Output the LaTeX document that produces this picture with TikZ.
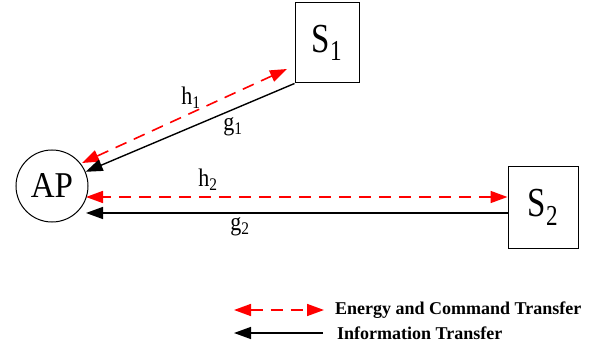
\documentclass[tikz,border=0pt]{standalone}
\usepackage{fontspec}
\setmainfont{Liberation Serif}
\usetikzlibrary{arrows.meta}
\tikzset{
  big/.style={font=\fontsize{33}{36}\selectfont},
  lbl/.style={font=\fontsize{22}{24}\selectfont, inner sep=0pt},
  leg/.style={font=\bfseries\fontsize{18}{20}\selectfont, anchor=west, inner sep=0pt},
  boxnode/.style={draw, line width=1pt, inner sep=0pt, big},
  energy/.style={draw=red, line width=1.6pt, dash pattern=on 12pt off 8pt,
     {Triangle[length=17pt,width=12pt]}-{Triangle[length=17pt,width=12pt]}},
  info/.style={draw=black, line width=1.4pt, -{Triangle[length=17pt,width=12pt]}},
}
\begin{document}
\begin{tikzpicture}[x=1pt,y=-1pt]
\useasboundingbox (0,0) rectangle (591,347);
\node[draw, circle, line width=1pt, minimum size=72pt, inner sep=0pt, big] (AP) at (52,186) {\scalebox{1}[1.1]{AP}};
\node[boxnode, minimum width=64pt, minimum height=80pt] (S1) at (327,43) {\scalebox{1}[1.25]{S\textsubscript{1}}};
\node[boxnode, minimum width=70pt, minimum height=81pt] (S2) at (543,207.5) {\scalebox{1}[1.25]{S\textsubscript{2}}};
% endpoints
\coordinate (h1a) at (82,163);
\coordinate (h1b) at (287,69);
\coordinate (h2a) at (86,197);
\coordinate (g2a) at (86,213);
\draw[energy] (h1b) -- (h1a);
\draw[info] (S1.south west) -- (AP);
\draw[energy] (S2.west |- h2a) -- (h2a);
\draw[info] (S2.west |- g2a) -- (g2a);
% labels
\node[lbl] (lh1) at (191,98) {\scalebox{1}[1.15]{h\textsubscript{1}}};
\node[lbl] (lg1) at (233,127) {\scalebox{1}[1.15]{g\textsubscript{1}}};
\node[lbl] (lh2) at (208,180) {\scalebox{1}[1.15]{h\textsubscript{2}}};
\node[lbl] (lg2) at (240,227) {\scalebox{1}[1.15]{g\textsubscript{2}}};
% legend
\coordinate (e1) at (234,310);
\coordinate (e2) at (324,310);
\coordinate (i1) at (234,333);
\coordinate (i2) at (323,333);
\draw[energy] (e1) -- (e2);
\draw[info] (i2) -- (i1);
\node[leg] (le) at (335,310) {Energy and Command Transfer};
\node[leg] (li) at (337,333) {Information Transfer};
\end{tikzpicture}
\end{document}
